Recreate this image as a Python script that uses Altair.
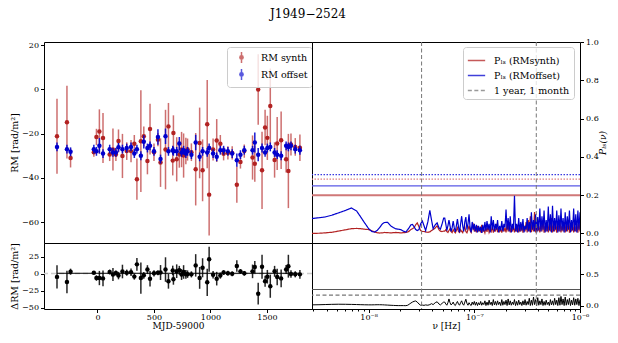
import altair as alt
import pandas as pd

FONT = "DejaVu Serif"
RED = "#b22222"
BLUE = "#0000cd"

# ---------------- data ----------------
mjd = [-358, -270, -238, -32, -9, 17, 49, 108, 137, 163, 186, 221, 259, 297, 326, 349, 384, 410, 442, 465,
       500, 535, 558, 602, 628, 666, 672, 701, 724, 744, 762, 782, 797, 831, 869, 904, 930, 971, 988, 1023,
       1055, 1087, 1116, 1154, 1192, 1233, 1265, 1299, 1372, 1392, 1422, 1456, 1483, 1503, 1529, 1567, 1590,
       1625, 1669, 1689, 1712, 1750, 1791]
rm_synth = [-21.2, -14.8, -31.0, -28.4, -21.5, -19.0, -22.0, -29.4, -27.2, -29.4, -23.3, -30.1, -27.9, -27.9,
            -24.6, -40.6, -23.4, -21.2, -32.4, -17.9, -28.4, -22.7, -33.1, -27.2, -16.7, -32.2, -19.7, -31.6,
            -29.4, -27.2, -29.9, -27.9, -27.2, -28.4, -36.1, -24.2, -36.6, -15.7, -47.6, -27.2, -23.1, -24.6,
            -29.1, -28.7, -28.7, -43.1, -32.8, -27.9, -30.8, -33.6, 0.0, -36.6, -17.2, -21.9, -7.5, -31.9,
            -24.5, -23.0, -31.6, -36.9, -24.9, -26.0, -26.4]
rm_synth_err = [17, 16.5, 4.3, 2, 3.7, 10, 11.3, 3, 9.5, 3, 5.2, 10, 4, 5, 4, 9.3, 23, 4.5, 6, 11.5,
                4, 3, 11, 18, 10.6, 6.7, 8, 10, 6, 8, 10, 6, 5, 4, 16.4, 16, 14, 20, 18.5, 5,
                9.7, 4, 3, 3, 3, 8.2, 3, 3, 10, 8.2, 16, 17.5, 8, 10, 17, 8, 12, 13, 6, 16.8, 5, 4, 6]
rm_offset = [-26, -27, -28.2, -27, -28, -25.5, -29, -27, -28.5, -28.5, -26.2, -27, -26.5, -26, -29, -27, -30,
             -23.7, -26.5, -25.5, -28, -21.5, -31.5, -21.2, -28, -27.5, -28, -28, -24.5, -28.5, -27.5, -29,
             -28, -29.5, -24, -30.5, -28, -28.5, -26.5, -29, -30.5, -27.5, -27.5, -28, -29, -32, -29.5, -27.5,
             -27.5, -24, -29.5, -26.5, -28.5, -26.5, -26, -28.5, -29.5, -30, -25.5, -26, -25.5, -27, -27.5]
rm_offset_err = [2, 2, 2, 2, 2, 3.5, 2, 2, 2, 2, 2, 2, 2, 2, 2, 2, 2, 3, 2, 2,
                 2, 3.5, 2, 3.5, 2, 2, 2, 2, 3, 2, 2, 2, 2, 2, 3.5, 2, 2, 2, 2, 2,
                 2, 2, 2, 2, 2, 3, 2, 2, 2, 4.5, 3, 2, 2, 2, 2, 2, 2, 2, 2, 2, 2, 2, 2]
delta_rm = [-4.8, -12.2, 2.8, 1.4, -6.5, -6.5, -7.0, 2.4, -1.3, 0.9, -2.9, 3.1, 1.4, 1.9, -4.4, 13.6, -6.6,
            -2.5, 5.9, -7.6, 0.4, 1.2, 1.6, 6.0, -11.3, 4.7, -8.3, 3.6, 4.9, -1.3, 2.4, -1.1, -0.8, -1.1, 12.1,
            -6.3, 8.6, -12.8, 21.1, -1.8, -7.4, -2.9, 1.6, 0.7, -0.3, 11.1, 3.3, 0.4, 3.3, 9.6, -29.5, 10.1,
            -11.3, -4.6, -18.5, 3.4, -5.0, -7.0, 6.1, 10.9, -0.6, -1.0, -1.1]
delta_rm_err = [17, 16.5, 4.5, 2.5, 4, 10.5, 11.5, 3.5, 9.5, 3.5, 5.5, 10, 4.5, 5.5, 4.5, 9.5, 23, 5, 6.5, 11.5,
                4.5, 3.5, 11, 18, 10.8, 7, 8, 10, 6.5, 8, 10, 6.5, 5.5, 4.5, 16.5, 16, 14, 20, 18.5, 5.5,
                10, 4.5, 3.5, 3.5, 3.5, 8.5, 3.5, 3.5, 10, 9, 16, 17.5, 8, 10, 17, 8, 12, 13, 6.5, 16.8, 5.5, 4.5, 6.5]
delta_mean = 0.5

logf_low = [-8.536, -8.47, -8.411, -8.35, -8.287, -8.22, -8.162, -8.115, -8.08, -8.038, -8.0, -7.97, -7.944,
            -7.92, -7.897, -7.87, -7.851, -7.82, -7.788, -7.765, -7.742, -7.72, -7.695, -7.67, -7.648, -7.63,
            -7.617, -7.60, -7.586, -7.57, -7.555, -7.54, -7.524, -7.508, -7.492, -7.476, -7.461, -7.44, -7.421,
            -7.405, -7.39, -7.37, -7.352, -7.335, -7.321, -7.305, -7.29]
logf_high = [-7.28, -7.27, -7.26, -7.25, -7.24, -7.23, -7.22, -7.21, -7.20, -7.19, -7.18, -7.17, -7.16, -7.15,
             -7.14, -7.13, -7.12, -7.11, -7.10, -7.09, -7.08, -7.07, -7.06, -7.05, -7.04, -7.03, -7.02, -7.01,
             -7.00, -6.99, -6.98, -6.97, -6.96, -6.95, -6.94, -6.93, -6.92, -6.91, -6.90, -6.89, -6.88, -6.87,
             -6.86, -6.85, -6.84, -6.83, -6.82, -6.81, -6.80, -6.79, -6.78, -6.77, -6.76, -6.75, -6.74, -6.73,
             -6.72, -6.71, -6.70, -6.69, -6.68, -6.67, -6.66, -6.65, -6.64, -6.63, -6.62, -6.61, -6.60, -6.59,
             -6.58, -6.57, -6.56, -6.55, -6.54, -6.53, -6.52, -6.51, -6.50, -6.49, -6.48, -6.47, -6.46, -6.45,
             -6.44, -6.43, -6.42, -6.41, -6.40, -6.39, -6.38, -6.37, -6.36, -6.35, -6.34, -6.33, -6.32, -6.31,
             -6.30, -6.29, -6.28, -6.27, -6.26, -6.25, -6.24, -6.23, -6.22, -6.21, -6.20, -6.19, -6.18, -6.17,
             -6.16, -6.15, -6.14, -6.13, -6.12, -6.11, -6.10, -6.09, -6.08, -6.07, -6.06, -6.05, -6.04, -6.03,
             -6.02, -6.01, -6.00]

pls_offset_low = [0.078, 0.082, 0.086, 0.095, 0.107, 0.12, 0.133, 0.118, 0.09, 0.055, 0.025, 0.01, 0.007, 0.015,
                  0.03, 0.05, 0.057, 0.058, 0.038, 0.03, 0.024, 0.022, 0.02, 0.012, 0.007, 0.02, 0.03, 0.045,
                  0.047, 0.035, 0.02, 0.015, 0.02, 0.05, 0.065, 0.04, 0.015, 0.06, 0.12, 0.07, 0.025, 0.045,
                  0.055, 0.03, 0.022, 0.05, 0.08]
pls_offset_high = [0.08, 0.05, 0.015, 0.04, 0.07, 0.04, 0.01, 0.03, 0.065, 0.03, 0.008, 0.04, 0.075, 0.035,
                   0.005, 0.05, 0.09, 0.04, 0.01, 0.06, 0.085, 0.02, 0.05, 0.1, 0.03, 0.005, 0.06, 0.02, 0.05,
                   0.01, 0.045, 0.005, 0.04, 0.012, 0.035, 0.003, 0.045, 0.01, 0.06,
                   0.015, 0.065, 0.02, 0.05, 0.005, 0.09, 0.02, 0.07, 0.01, 0.05,
                   0.02, 0.07, 0.005, 0.04, 0.015, 0.065, 0.01, 0.05, 0.03, 0.125,
                   0.02, 0.08, 0.01, 0.09, 0.005, 0.05, 0.02, 0.197, 0.01, 0.05,
                   0.005, 0.08, 0.01, 0.06, 0.015, 0.075, 0.005, 0.04, 0.02, 0.08,
                   0.01, 0.06, 0.005, 0.11, 0.02, 0.07, 0.01, 0.1, 0.005, 0.085,
                   0.015, 0.13, 0.01, 0.09, 0.02, 0.12, 0.005, 0.07, 0.01, 0.14,
                   0.015, 0.1, 0.005, 0.145, 0.01, 0.08, 0.02, 0.12, 0.005, 0.095,
                   0.01, 0.13, 0.015, 0.08, 0.005, 0.11, 0.01, 0.09, 0.02, 0.12,
                   0.005, 0.07, 0.015, 0.13, 0.01, 0.1, 0.005, 0.12, 0.02, 0.11]
pls_synth_low = [0.0, 0.001, 0.003, 0.006, 0.012, 0.019, 0.025, 0.026, 0.025, 0.022, 0.02, 0.014, 0.008, 0.004,
                 0.002, 0.003, 0.005, 0.004, 0.003, 0.004, 0.005, 0.004, 0.003, 0.004, 0.005, 0.008, 0.012, 0.02,
                 0.025, 0.03, 0.045, 0.055, 0.035, 0.015, 0.01, 0.01, 0.008, 0.006, 0.008, 0.015, 0.02, 0.028,
                 0.04, 0.02, 0.012, 0.01, 0.012]
pls_synth_high = [0.012, 0.02, 0.01, 0.005, 0.015, 0.025, 0.01, 0.004, 0.02, 0.01, 0.003, 0.015, 0.03, 0.01,
                  0.005, 0.02, 0.01, 0.004, 0.025, 0.035, 0.01, 0.003, 0.02, 0.04, 0.015, 0.005, 0.03, 0.045, 0.01,
                  0.035, 0.005, 0.04, 0.01, 0.03, 0.005, 0.045, 0.01, 0.02, 0.003,
                  0.03, 0.008, 0.04, 0.005, 0.02, 0.01, 0.035, 0.004, 0.025, 0.01,
                  0.05, 0.006, 0.03, 0.01, 0.02, 0.004, 0.04, 0.01, 0.03, 0.005,
                  0.05, 0.01, 0.06, 0.005, 0.03, 0.01, 0.04, 0.005, 0.03, 0.01,
                  0.045, 0.005, 0.035, 0.01, 0.05, 0.004, 0.04, 0.01, 0.06, 0.005,
                  0.07, 0.01, 0.09, 0.006, 0.05, 0.01, 0.112, 0.005, 0.06, 0.01,
                  0.04, 0.005, 0.05, 0.01, 0.07, 0.004, 0.04, 0.01, 0.06, 0.005,
                  0.05, 0.01, 0.08, 0.005, 0.045, 0.01, 0.06, 0.004, 0.05, 0.01,
                  0.07, 0.005, 0.04, 0.01, 0.06, 0.005, 0.05, 0.01, 0.07, 0.004,
                  0.05, 0.01, 0.06, 0.005, 0.04, 0.01, 0.05, 0.004, 0.06, 0.01]
pls_delta_low = [0.016, 0.018, 0.021, 0.024, 0.026, 0.025, 0.023, 0.021, 0.019, 0.017, 0.016, 0.016, 0.017, 0.018,
                 0.018, 0.017, 0.015, 0.012, 0.009, 0.007, 0.005, 0.004, 0.004, 0.004, 0.003, 0.01, 0.025, 0.045,
                 0.06, 0.072, 0.078, 0.06, 0.03, 0.01, 0.012, 0.008, 0.015, 0.01, 0.02, 0.035, 0.02, 0.05, 0.065,
                 0.03, 0.015, 0.04, 0.06]
pls_delta_high = [0.06, 0.03, 0.01, 0.05, 0.11, 0.05, 0.015, 0.03, 0.06, 0.02, 0.005, 0.04, 0.07, 0.03, 0.01,
                  0.05, 0.08, 0.03, 0.01, 0.06, 0.105, 0.04, 0.01, 0.05, 0.02, 0.005, 0.06, 0.02, 0.07,
                  0.01, 0.06, 0.005, 0.05, 0.015, 0.07, 0.01, 0.05, 0.02, 0.08,
                  0.005, 0.06, 0.01, 0.09, 0.02, 0.06, 0.005, 0.1, 0.015, 0.07,
                  0.01, 0.08, 0.02, 0.06, 0.005, 0.1, 0.01, 0.07, 0.02, 0.09,
                  0.005, 0.11, 0.015, 0.08, 0.01, 0.06, 0.02, 0.1, 0.005, 0.07,
                  0.01, 0.09, 0.02, 0.06, 0.005, 0.08, 0.015, 0.1, 0.01, 0.07,
                  0.02, 0.12, 0.005, 0.09, 0.01, 0.14, 0.02, 0.1, 0.005, 0.13,
                  0.01, 0.08, 0.02, 0.11, 0.005, 0.07, 0.01, 0.09, 0.02, 0.06,
                  0.005, 0.1, 0.015, 0.08, 0.01, 0.12, 0.02, 0.09, 0.005, 0.13,
                  0.01, 0.15, 0.02, 0.11, 0.005, 0.14, 0.01, 0.1, 0.02, 0.12,
                  0.005, 0.09, 0.015, 0.13, 0.01, 0.11, 0.02, 0.12, 0.005, 0.1]

sig_top = [0.307, 0.284, 0.248, 0.200]       # blue dotted, red dotted, blue solid, red solid
sig_bottom = [0.26, 0.17]                     # solid, dashed
year_month_hz = [3.169e-8, 3.858e-7]
nu_ticks = [3e-9, 4e-9, 5e-9, 6e-9, 7e-9, 8e-9, 9e-9, 1e-8, 2e-8, 3e-8, 4e-8, 5e-8, 6e-8, 7e-8, 8e-8, 9e-8,
            1e-7, 2e-7, 3e-7, 4e-7, 5e-7, 6e-7, 7e-7, 8e-7, 9e-7, 1e-6]

LS_NAMES = ["Pₗₛ (RMsynth)", "Pₗₛ (RMoffset)", "1 year, 1 month"]
RM_NAMES = ["RM synth", "RM offset"]

# ---------------- tables ----------------
def rm_table(vals, errs, name):
    return pd.DataFrame({"mjd": mjd, "rm": vals,
                         "lo": [v - e for v, e in zip(vals, errs)],
                         "hi": [v + e for v, e in zip(vals, errs)],
                         "series": name})

red_df = rm_table(rm_synth, rm_synth_err, RM_NAMES[0])
blue_df = rm_table(rm_offset, rm_offset_err, RM_NAMES[1])
d_df = rm_table(delta_rm, delta_rm_err, "d")

logf = logf_low + logf_high
freq = [10 ** v for v in logf]
ls_red = pd.DataFrame({"f": freq, "p": pls_synth_low + pls_synth_high, "series": LS_NAMES[0]})
ls_blue = pd.DataFrame({"f": freq, "p": pls_offset_low + pls_offset_high, "series": LS_NAMES[1]})
ls_black = pd.DataFrame({"f": freq, "p": pls_delta_low + pls_delta_high})
vl_df = pd.DataFrame({"f": year_month_hz, "series": LS_NAMES[2]})

# ---------------- scales / axes ----------------
xs = alt.Scale(domain=[-473, 1898], nice=False, zero=False)
ys_tl = alt.Scale(domain=[-69.5, 21.5], nice=False, zero=False)
ys_bl = alt.Scale(domain=[-52, 45], nice=False, zero=False)
fs = alt.Scale(type="log", domain=[2.91e-9, 1e-6], nice=False)
ps = alt.Scale(domain=[-0.05, 1.0], nice=False, zero=False)

ax_tl = alt.Axis(title="RM [rad/m²]", values=[-60, -40, -20, 0, 20], minExtent=21, maxExtent=21, titlePadding=4)
ax_bl = alt.Axis(title="ΔRM [rad/m²]", values=[-50, -25, 0, 25], minExtent=21, maxExtent=21, titlePadding=4)
ax_bx = alt.Axis(title="MJD-59000", values=[0, 500, 1000, 1500], format="d", labelFlush=False,
                 labelPadding=1, titlePadding=0, titleFontSize=9)
ax_tr = alt.Axis(title="Pₗₛ(ν)", orient="right", values=[0, 0.2, 0.4, 0.6, 0.8, 1.0], format=".1f",
                 minExtent=17.5, maxExtent=17.5, titlePadding=0.5, titleAngle=270, titleBaseline="top",
                 titleFontStyle="italic", titleFontSize=9)
ax_br = alt.Axis(title=None, orient="right", values=[0, 0.5, 1.0], format=".1f", minExtent=17.5, maxExtent=17.5)
decade = "abs(log(datum.value)/LN10 - round(log(datum.value)/LN10)) < 0.01"
ax_fx = alt.Axis(title="ν [Hz]", values=nu_ticks, labelFlush=False, labelOverlap=False,
                 labelPadding=1, titlePadding=0, titleFontSize=9,
                 labelExpr="datum.value > 9.5e-9 && datum.value < 1.1e-8 ? '10⁻⁸' : "
                           "datum.value > 9.5e-8 && datum.value < 1.1e-7 ? '10⁻⁷' : "
                           "datum.value > 9.5e-7 ? '10⁻⁶' : ''",
                 tickSize={"condition": {"test": decade, "value": 3.5}, "value": 2})

EB_PATH = ("M0,-1L0,1M-0.3,0a0.3,0.3 0 1,0 0.6,0a0.3,0.3 0 1,0 -0.6,0"
           "M-0.12,0a0.12,0.12 0 1,0 0.24,0a0.12,0.12 0 1,0 -0.24,0")
leg_tl = alt.Legend(title=None, orient="none", legendX=183, legendY=5, symbolType=EB_PATH, symbolSize=121,
                    symbolStrokeWidth=1.5, symbolOffset=4, labelOffset=13, labelFont=FONT, labelFontSize=9.5,
                    labelColor="black", fillColor="rgba(255,255,255,0.8)", strokeColor="#cccccc",
                    cornerRadius=3, padding=4, rowPadding=0)
rm_scale = alt.Scale(domain=RM_NAMES, range=[RED, BLUE])

leg_tr = alt.Legend(title=None, orient="none", legendX=151, legendY=5, symbolType="stroke", symbolSize=300,
                    symbolStrokeWidth=1.5, symbolOpacity=0.75, labelOffset=8, labelFont=FONT,
                    labelFontSize=9.5, labelColor="black", fillColor="rgba(255,255,255,0.8)",
                    strokeColor="#cccccc", cornerRadius=3, padding=4, rowPadding=1)
ls_color = alt.Scale(domain=LS_NAMES, range=[RED, BLUE, "#777777"])
ls_dash = alt.Scale(domain=LS_NAMES, range=[[1, 0], [1, 0], [4, 2.5]])

W, HT, HB = 268, 201, 66

# ---------------- top left ----------------
def rm_err(df, op, legend):
    return alt.Chart(df).mark_rule(strokeWidth=1.5, opacity=op, clip=True).encode(
        x=alt.X("mjd:Q", scale=xs, axis=None),
        y=alt.Y("lo:Q", scale=ys_tl, axis=ax_tl),
        y2="hi:Q",
        color=alt.Color("series:N", scale=rm_scale, legend=legend))

def rm_pts(df):
    return alt.Chart(df).mark_circle(size=20, opacity=1, clip=True).encode(
        x=alt.X("mjd:Q", scale=xs, axis=None),
        y=alt.Y("rm:Q", scale=ys_tl, axis=ax_tl),
        color=alt.Color("series:N", scale=rm_scale, legend=None))

tl = alt.layer(rm_err(red_df, 0.65, leg_tl), rm_pts(red_df), rm_err(blue_df, 0.9, None), rm_pts(blue_df)
               ).properties(width=W, height=HT)

# ---------------- bottom left ----------------
zero_df = pd.DataFrame({"v": [0]})
bl_zero = alt.Chart(zero_df).mark_rule(color="#cccccc", strokeDash=[5, 3], strokeWidth=1.5).encode(
    y=alt.Y("v:Q", scale=ys_bl, axis=ax_bl))
mean_df = pd.DataFrame({"v": [delta_mean], "x1": [min(mjd)], "x2": [max(mjd)]})
bl_mean = alt.Chart(mean_df).mark_rule(color="black", strokeWidth=1).encode(
    x=alt.X("x1:Q", scale=xs, axis=ax_bx), x2="x2:Q", y=alt.Y("v:Q", scale=ys_bl, axis=ax_bl))
bl_err = alt.Chart(d_df).mark_rule(color="black", strokeWidth=1.5, opacity=0.85, clip=True).encode(
    x=alt.X("mjd:Q", scale=xs, axis=ax_bx), y=alt.Y("lo:Q", scale=ys_bl, axis=ax_bl), y2="hi:Q")
bl_pts = alt.Chart(d_df).mark_circle(size=20, color="black", opacity=1, clip=True).encode(
    x=alt.X("mjd:Q", scale=xs, axis=ax_bx), y=alt.Y("rm:Q", scale=ys_bl, axis=ax_bl))
bl = alt.layer(bl_zero, bl_mean, bl_err, bl_pts).properties(width=W, height=HB)

# ---------------- top right ----------------
def hline(v, color, dash, width, yscale, axis):
    return alt.Chart(pd.DataFrame({"p": [v]})).mark_rule(color=color, strokeDash=dash, strokeWidth=width).encode(
        y=alt.Y("p:Q", scale=yscale, axis=axis))

tr_h = [hline(sig_top[0], "#3a3ae0", [1.5, 1.5], 1.2, ps, ax_tr),
        hline(sig_top[1], "#e08080", [1.5, 1.5], 1.2, ps, ax_tr),
        hline(sig_top[2], "#5a5ae6", [1, 0], 1.2, ps, ax_tr),
        hline(sig_top[3], "#d07878", [1, 0], 2.0, ps, ax_tr)]

def ls_line(df):
    return alt.Chart(df).mark_line(strokeWidth=1.2, clip=True).encode(
        x=alt.X("f:Q", scale=fs, axis=None),
        y=alt.Y("p:Q", scale=ps, axis=ax_tr),
        color=alt.Color("series:N", scale=ls_color, legend=leg_tr),
        strokeDash=alt.StrokeDash("series:N", scale=ls_dash, legend=leg_tr))

tr_v = alt.Chart(vl_df).mark_rule(strokeWidth=1).encode(
    x=alt.X("f:Q", scale=fs, axis=None),
    color=alt.Color("series:N", scale=ls_color, legend=leg_tr),
    strokeDash=alt.StrokeDash("series:N", scale=ls_dash, legend=leg_tr))

tr = alt.layer(*tr_h, ls_line(ls_red), ls_line(ls_blue), tr_v).properties(width=W, height=HT)

# ---------------- bottom right ----------------
br_h = [hline(sig_bottom[0], "#555555", [1, 0], 1.2, ps, ax_br),
        hline(sig_bottom[1], "#777777", [4, 2.5], 1.2, ps, ax_br)]
br_line = alt.Chart(ls_black).mark_line(strokeWidth=1, color="black", clip=True).encode(
    x=alt.X("f:Q", scale=fs, axis=ax_fx), y=alt.Y("p:Q", scale=ps, axis=ax_br))
br_v = alt.Chart(vl_df).mark_rule(strokeWidth=1, color="#777777", strokeDash=[4, 2.5]).encode(
    x=alt.X("f:Q", scale=fs, axis=ax_fx))
br = alt.layer(*br_h, br_line, br_v).properties(width=W, height=HB)

chart = alt.concat(
    tl, tr, bl, br, columns=2, spacing=0, bounds="flush", align="each",
    title=alt.TitleParams(text="J1949−2524", font=FONT, fontSize=12, fontWeight="normal",
                          anchor="middle", offset=16.5, color="black"),
).resolve_scale(
    color="independent", strokeDash="independent"
).properties(
    padding={"left": 0, "top": 0, "right": 0, "bottom": 0}
).configure_view(
    stroke="black", strokeWidth=1
).configure_axis(
    labelFont=FONT, titleFont=FONT, labelFontSize=8, titleFontSize=9.5, titleFontWeight="normal",
    labelColor="black", titleColor="black", tickColor="black", tickSize=3.5, labelPadding=2,
    domain=False, grid=False
)

chart.save("out.html", embed_options={"renderer": "svg", "actions": False})
